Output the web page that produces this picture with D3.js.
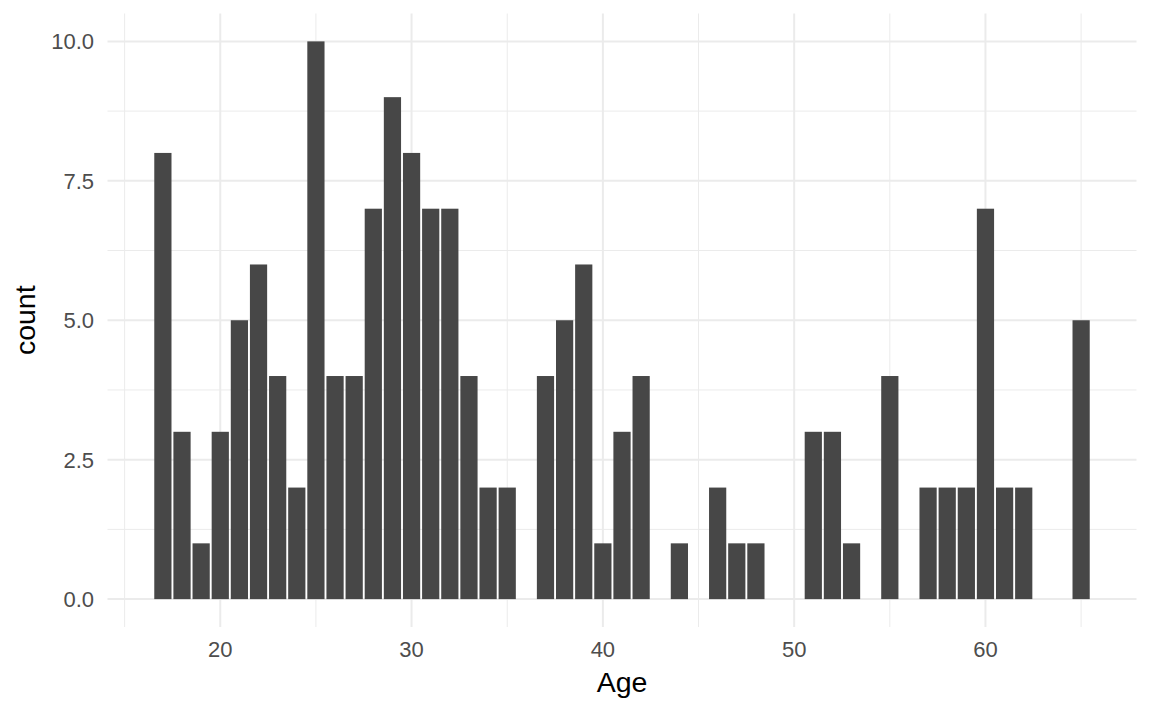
<!DOCTYPE html>
<html><head><meta charset="utf-8">
<script src="https://cdn.jsdelivr.net/npm/d3@7"></script>
<style>body{margin:0;background:#fff}svg{display:block}</style>
</head><body>
<svg id="c" width="1152" height="711"></svg>
<script>
const ages   = [17,18,19,20,21,22,23,24,25,26,27,28,29,30,31,32,33,34,35,37,38,39,40,41,42,44,46,47,48,51,52,53,55,57,58,59,60,61,62,65];
const counts = [8,3,1,3,5,6,4,2,10,4,4,7,9,8,7,7,4,2,2,4,5,6,1,3,4,1,2,1,1,3,3,1,4,2,2,2,7,2,2,5];
const xTicks = [20,30,40,50,60];
const xMinor = [15,25,35,45,55,65];
const yTicks = [0,2.5,5,7.5,10];
const yMinor = [1.25,3.75,6.25,8.75];

const svg = d3.select("#c");
const L=107.5, R=1136.5, T=13.5, B=627;
const bw = 0.9;
const lo = d3.min(ages)-bw/2, hi = d3.max(ages)+bw/2, ex=(hi-lo)*0.05;
const x = d3.scaleLinear().domain([lo-ex, hi+ex]).range([L,R]);
const ymax = d3.max(counts);
const y = d3.scaleLinear().domain([-ymax*0.05, ymax*1.05]).range([B,T]);

const g = svg.append("g");
g.selectAll(".ym").data(yMinor).join("line").attr("x1",L).attr("x2",R)
 .attr("y1",d=>y(d)).attr("y2",d=>y(d)).attr("stroke","#EBEBEB").attr("stroke-width",1);
g.selectAll(".xm").data(xMinor).join("line").attr("y1",T).attr("y2",B)
 .attr("x1",d=>x(d)).attr("x2",d=>x(d)).attr("stroke","#EBEBEB").attr("stroke-width",1);
g.selectAll(".yM").data(yTicks).join("line").attr("x1",L).attr("x2",R)
 .attr("y1",d=>y(d)).attr("y2",d=>y(d)).attr("stroke","#EBEBEB").attr("stroke-width",2);
g.selectAll(".xM").data(xTicks).join("line").attr("y1",T).attr("y2",B)
 .attr("x1",d=>x(d)).attr("x2",d=>x(d)).attr("stroke","#EBEBEB").attr("stroke-width",2);

svg.append("g").selectAll("rect").data(ages.map((a,i)=>({a,c:counts[i]}))).join("rect")
 .attr("x",d=>x(d.a-bw/2)).attr("width",d=>x(d.a+bw/2)-x(d.a-bw/2))
 .attr("y",d=>y(d.c)).attr("height",d=>y(0)-y(d.c)).attr("fill","#474747");

const font = "Liberation Sans, Arial, sans-serif";
svg.append("g").selectAll("text").data(yTicks).join("text")
 .attr("x",94).attr("y",d=>y(d)).attr("dy","0.36em").attr("text-anchor","end")
 .attr("font-family",font).attr("font-size",22).attr("fill","#4D4D4D")
 .text(d=>d3.format(".1f")(d));
svg.append("g").selectAll("text").data(xTicks).join("text")
 .attr("x",d=>x(d)).attr("y",657).attr("text-anchor","middle")
 .attr("font-family",font).attr("font-size",22).attr("fill","#4D4D4D")
 .text(d=>d);
svg.append("text").attr("x",(L+R)/2).attr("y",692).attr("text-anchor","middle")
 .attr("font-family",font).attr("font-size",28.5).attr("fill","#000").text("Age");
svg.append("text").attr("transform",`translate(35,${(T+B)/2}) rotate(-90)`).attr("text-anchor","middle")
 .attr("font-family",font).attr("font-size",28.5).attr("fill","#000").text("count");
</script>
</body></html>
